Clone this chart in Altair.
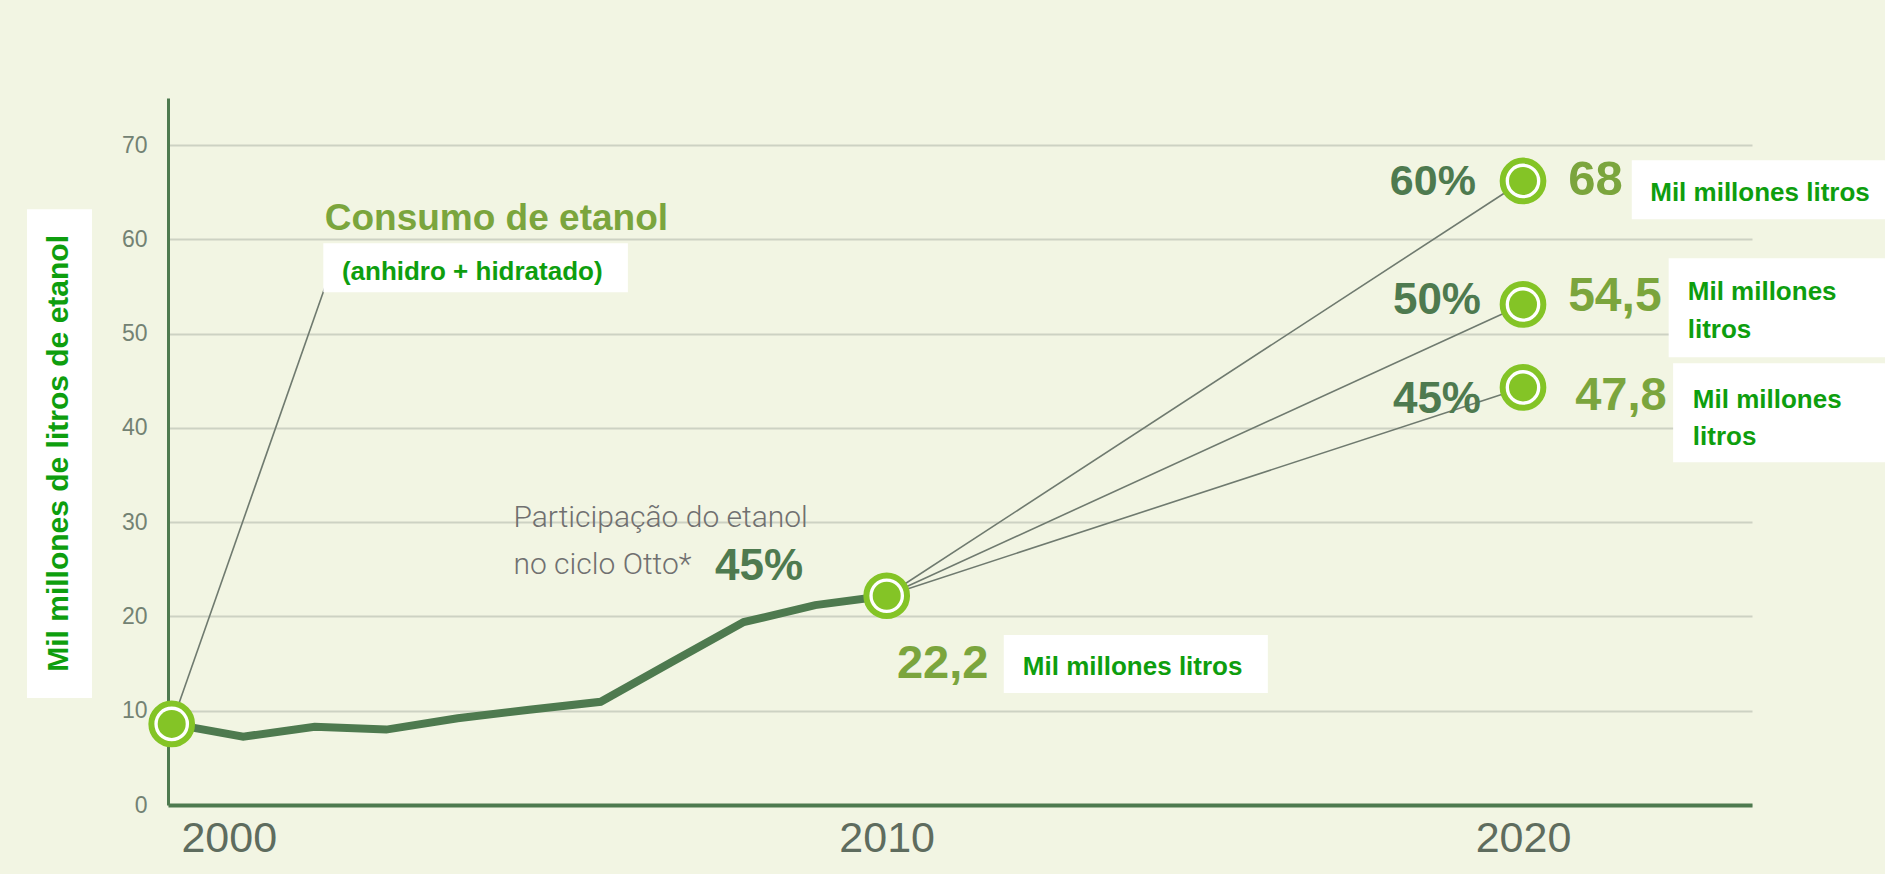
import altair as alt
import pandas as pd

# ---------------- data ----------------
years = [2000, 2001, 2002, 2003, 2004, 2005, 2006, 2007, 2008, 2009, 2010]
consumo = [8.6, 7.25, 8.3, 8.0, 9.2, 10.1, 10.95, 15.2, 19.4, 21.2, 22.2]

scen_year = 2020
scen_share = ["60%", "50%", "45%"]          # participação do etanol
scen_label = ["68", "54,5", "47,8"]         # value labels
scen_pos = [66.2, 53.1, 44.3]               # drawn position of the 2020 circles

label_2010 = "22,2"
share_2010 = "45%"
unit_text = "Mil millones litros"

x_ticks = [2000, 2010, 2020]
y_ticks = [0, 10, 20, 30, 40, 50, 60, 70]

# ---------------- styles ----------------
GREEN_DARK = "#4e7a4f"
OLIVE = "#7ba53d"
LIME = "#84c426"
BRIGHT = "#0e9e0e"
GREY_LINE = "#6f7a6f"
SANS = "'Liberation Sans', Arial, sans-serif"

xs = alt.Scale(domain=[1999.948, 2010, 2020, 2023.6], range=[0, 718.7, 1355, 1584],
               nice=False, zero=False)
ys = alt.Scale(domain=[0, 75], nice=False, zero=True)

xaxis = alt.Axis(values=x_ticks, format="d", grid=False, ticks=False, tickSize=0,
                 domainColor=GREEN_DARK, domainWidth=4,
                 labelFont=SANS, labelFontSize=43, labelColor="#5e6c5e",
                 labelPadding=12,
                 labelOffset={"condition": {"test": "datum.value == 2000", "value": 57}, "value": 0},
                 title=None)
yaxis = alt.Axis(values=y_ticks, grid=True, gridColor="#cdd2c3", gridWidth=2,
                 ticks=False, tickSize=0, domainColor=GREEN_DARK, domainWidth=3,
                 labelFont=SANS, labelFontSize=23, labelColor="#738273",
                 labelPadding=21, title=None)

X = alt.X("year:Q", scale=xs, axis=xaxis)
Y = alt.Y("value:Q", scale=ys, axis=yaxis)

# ---------------- tables ----------------
line_df = pd.DataFrame({"year": years, "value": consumo})

conn_rows = []
for i, v in enumerate(scen_pos):
    conn_rows.append({"year": years[-1], "value": consumo[-1], "g": i})
    conn_rows.append({"year": scen_year, "value": v, "g": i})
conn_rows.append({"year": years[0], "value": consumo[0], "g": 9})
conn_rows.append({"year": 2002.17, "value": 55.5, "g": 9})
conn_df = pd.DataFrame(conn_rows)

circ_df = pd.DataFrame({"year": [years[0], years[-1]] + [scen_year] * len(scen_pos),
                        "value": [consumo[0], consumo[-1]] + scen_pos})

box_df = pd.DataFrame({
    "year":   [2002.12, 2011.84, 2021.71, 2022.29, 2022.36, 1997.976],
    "year2":  [2006.38, 2015.99, 2025.69, 2025.69, 2025.69, 1998.885],
    "value":  [54.4, 11.88, 62.14, 47.5, 36.37, 11.35],
    "value2": [59.6, 18.03, 68.4, 58.0, 46.87, 63.2],
})

title_df = pd.DataFrame({"year": [2002.14], "value": [61.0], "t": ["Consumo de etanol"]})
sub_df = pd.DataFrame({"year": [2002.38], "value": [55.67], "t": ["(anhidro + hidratado)"]})
part_df = pd.DataFrame({"year": [2004.78, 2004.78], "value": [29.48, 24.5],
                        "t": ["Participação do etanol", "no ciclo Otto*"]})
share_left_df = pd.DataFrame({"year": [2007.6], "value": [23.86], "t": [share_2010], "fs": [44]})
share_right_df = pd.DataFrame({"year": [2019.26, 2019.34, 2019.34],
                               "value": [64.69, 52.07, 41.57],
                               "t": scen_share, "fs": [43, 44, 44]})
num_df = pd.DataFrame({"year": [2010.16, 2020.71, 2020.71, 2020.82],
                       "value": [13.47, 64.69, 52.39, 41.89],
                       "t": [label_2010] + scen_label, "fs": [47, 49, 48, 47]})
unit_df = pd.DataFrame({"year": [2012.14, 2022.0, 2022.59, 2022.59, 2022.67, 2022.67],
                        "value": [13.79, 64.05, 53.55, 49.52, 42.1, 38.18],
                        "t": [unit_text, unit_text, "Mil millones", "litros",
                              "Mil millones", "litros"]})
ytitle_df = pd.DataFrame({"year": [1998.43], "value": [37.3],
                          "t": ["Mil millones de litros de etanol"]})

# ---------------- layers ----------------
connectors = alt.Chart(conn_df).mark_line(color=GREY_LINE, strokeWidth=1.6).encode(
    x=X, y=Y, detail="g:N")
main_line = alt.Chart(line_df).mark_line(color=GREEN_DARK, strokeWidth=8).encode(x=X, y=Y)
ring = alt.Chart(circ_df).mark_circle(fill="white", stroke=LIME, strokeWidth=6,
                                      size=1656, opacity=1).encode(x=X, y=Y)
dot = alt.Chart(circ_df).mark_circle(color=LIME, size=784, opacity=1).encode(x=X, y=Y)
boxes = alt.Chart(box_df).mark_rect(color="white").encode(x=X, x2="year2", y=Y, y2="value2")

def txt(df, **kw):
    enc = dict(x=X, y=Y, text="t:N")
    if "fs" in df.columns:
        enc["size"] = alt.Size("fs:Q", scale=None, legend=None)
    return alt.Chart(df).mark_text(**kw).encode(**enc)

t_title = txt(title_df, font=SANS, fontWeight="bold", fontSize=37, color=OLIVE,
              align="left", baseline="alphabetic")
t_sub = txt(sub_df, font=SANS, fontWeight="bold", fontSize=26, color=BRIGHT,
            align="left", baseline="alphabetic")
t_part = txt(part_df, font="Roboto", fontWeight=300, fontSize=30, color="#707070",
             align="left", baseline="alphabetic")
t_share_l = txt(share_left_df, font=SANS, fontWeight="bold", color=GREEN_DARK,
                align="left", baseline="alphabetic")
t_share_r = txt(share_right_df, font=SANS, fontWeight="bold", color=GREEN_DARK,
                align="right", baseline="alphabetic")
t_num = txt(num_df, font=SANS, fontWeight="bold", color=OLIVE,
            align="left", baseline="alphabetic")
t_unit = txt(unit_df, font=SANS, fontWeight="bold", fontSize=26, color=BRIGHT,
             align="left", baseline="alphabetic")
t_ytitle = txt(ytitle_df, font=SANS, fontWeight="bold", fontSize=30, color=BRIGHT,
               align="center", baseline="middle", angle=270)

chart = alt.layer(
    connectors, main_line, ring, dot, boxes,
    t_title, t_sub, t_part, t_share_l, t_share_r, t_num, t_unit, t_ytitle,
).properties(
    width=1584, height=707,
    autosize=alt.AutoSizeParams(type="none"),
    padding={"left": 168, "top": 98, "right": 133, "bottom": 69},
    background="#f2f5e3",
).configure_view(strokeWidth=0)

chart.save("out.html", embed_options={"renderer": "svg", "actions": False})
